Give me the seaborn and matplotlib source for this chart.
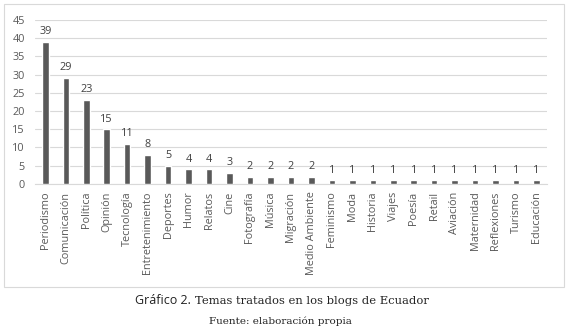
import matplotlib
matplotlib.use("Agg")
import matplotlib.pyplot as plt
from matplotlib.patches import Rectangle
import seaborn as sns
import pandas as pd

temas = ["Periodismo", "Comunicación", "Política", "Opinión", "Tecnología",
         "Entretenimiento", "Deportes", "Humor", "Relatos", "Cine", "Fotografía",
         "Música", "Migración", "Medio Ambiente", "Feminismo", "Moda", "Historia",
         "Viajes", "Poesía", "Retail", "Aviación", "Maternidad", "Reflexiones",
         "Turismo", "Educación"]
blogs = [39, 29, 23, 15, 11, 8, 5, 4, 4, 3, 2, 2, 2, 2, 1, 1, 1, 1, 1, 1, 1, 1, 1, 1, 1]
yticks = [0, 5, 10, 15, 20, 25, 30, 35, 40, 45]

df = pd.DataFrame({"tema": temas, "n": blogs})

sns.set_style("white")
plt.rcParams["font.family"] = ["Open Sans", "DejaVu Sans"]

W, H = 566, 332
fig = plt.figure(figsize=(W / 100, H / 100), dpi=100)
ax = fig.add_axes([0.062, 0.446, 0.904, 0.494])

sns.barplot(data=df, x="tema", y="n", color="#595959", width=0.32,
            saturation=1, ax=ax, zorder=3)

for i, v in enumerate(blogs):
    ax.text(i, v + 1.3, str(v), ha="center", va="bottom", fontsize=7.8,
            color="#404040")

ax.set_xlim(-0.5, len(temas) - 0.5)
ax.set_ylim(0, 45)
ax.set_yticks(yticks)
ax.yaxis.grid(True, color="#d9d9d9", linewidth=0.8, zorder=0)
ax.set_xlabel("")
ax.set_ylabel("")
ax.tick_params(axis="both", length=0, labelsize=7.8, colors="#595959")
ax.tick_params(axis="x", pad=5.5)
ax.tick_params(axis="y", pad=7.5)
ax.set_xticks(range(len(temas)))
ax.set_xticklabels(temas, rotation=90)
for s in ["top", "right", "left"]:
    ax.spines[s].set_visible(False)
ax.spines["bottom"].set_color("#d9d9d9")
ax.spines["bottom"].set_linewidth(0.8)

# marco del grafico
fig.patches.append(Rectangle((3.5 / W, 1 - 287 / H), 560 / W, 283 / H,
                             transform=fig.transFigure, fill=False,
                             edgecolor="#d9d9d9", linewidth=0.8))

# pie de figura: "Gráfico 2." en sans, el resto en serif
serif = ["DejaVu Serif"]
renderer = fig.canvas.get_renderer()
t1 = fig.text(135 / W, 1 - 301 / H, "Gráfico 2.", ha="left", va="center",
              fontsize=9, color="#222222")
w1 = t1.get_window_extent(renderer).width
t2 = fig.text(0, 1 - 301 / H, "Temas tratados en los blogs de Ecuador",
              ha="left", va="center", fontsize=9, color="#222222", family=serif)
w2 = t2.get_window_extent(renderer).width
t2.set_fontsize(9 * (428 - 135 - w1 - 4) / w2)
t2.set_x((135 + w1 + 4) / W)

t3 = fig.text(280 / W, 1 - 321 / H, "Fuente: elaboración propia",
              ha="center", va="center", fontsize=7, color="#222222", family=serif)
w3 = t3.get_window_extent(renderer).width
t3.set_fontsize(7 * 144 / w3)

fig.savefig("out.png", dpi=100)
